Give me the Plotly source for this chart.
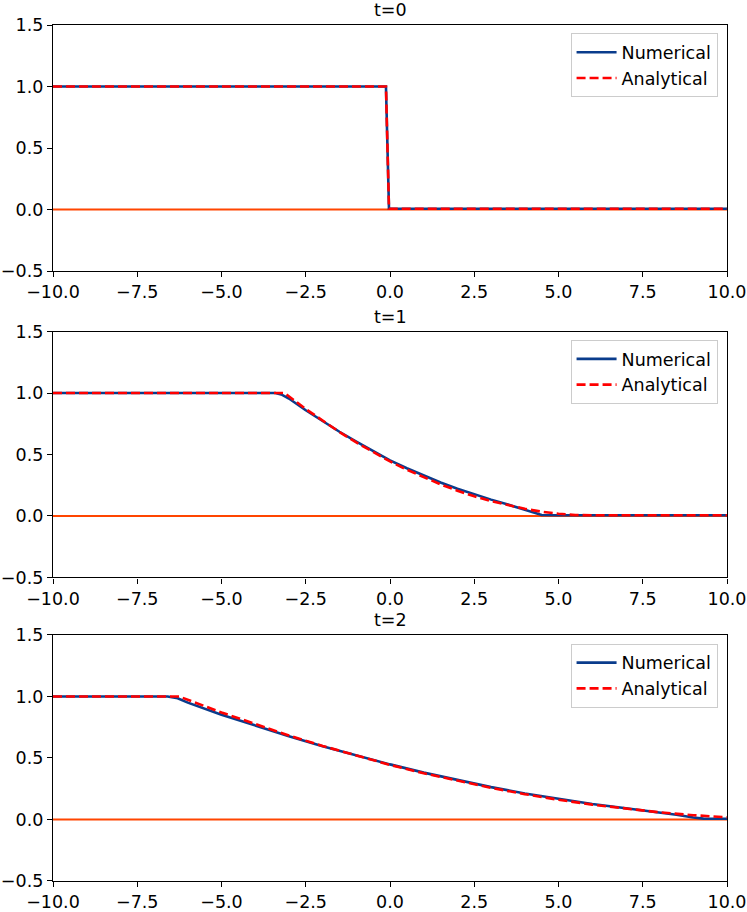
import plotly.graph_objects as go

# ---------------- data ----------------
titles = ["t=0", "t=1", "t=2"]

# t = 0
x_num_t0 = [-10.0, -0.12, -0.03, 10.0]
h_num_t0 = [1.0, 1.0, 0.006, 0.006]
x_ana_t0 = [-10.0, -0.12, -0.03, 10.0]
h_ana_t0 = [1.0, 1.0, 0.006, 0.006]

# t = 1
x_num_t1 = [-10.0, -3.4, -3.2, -3.0, -2.5, -2.0, -1.5, -1.0, -0.5, 0.0, 0.5, 1.0,
            1.5, 2.0, 2.5, 3.0, 3.5, 4.0, 4.3, 4.5, 5.0, 10.0]
h_num_t1 = [1.0, 1.0, 0.985, 0.955, 0.86, 0.77, 0.685, 0.605, 0.525, 0.452, 0.388, 0.328,
            0.272, 0.222, 0.176, 0.133, 0.093, 0.052, 0.022, 0.008, 0.006, 0.006]
x_ana_t1 = [-10.0, -3.13, -2.5, -2.0, -1.5, -1.0, -0.5, 0.0, 0.5, 1.0, 1.5, 2.0,
            2.5, 3.0, 3.5, 4.0, 4.5, 5.0, 5.5, 6.0, 10.0]
h_ana_t1 = [1.0, 1.0, 0.87, 0.775, 0.683, 0.598, 0.518, 0.444, 0.376, 0.314, 0.257, 0.206,
            0.160, 0.121, 0.087, 0.058, 0.035, 0.018, 0.008, 0.006, 0.006]

# t = 2
x_num_t2 = [-10.0, -6.6, -6.3, -6.0, -5.0, -4.0, -3.0, -2.0, -1.0, 0.0, 1.0, 2.0,
            3.0, 4.0, 5.0, 6.0, 7.0, 8.0, 8.5, 9.0, 9.3, 10.0]
h_num_t2 = [1.0, 1.0, 0.985, 0.95, 0.852, 0.762, 0.677, 0.596, 0.519, 0.448, 0.381, 0.319,
            0.263, 0.212, 0.166, 0.126, 0.091, 0.058, 0.038, 0.016, 0.007, 0.006]
x_ana_t2 = [-10.0, -6.26, -5.0, -4.0, -3.0, -2.0, -1.0, 0.0, 1.0, 2.0, 3.0, 4.0,
            5.0, 6.0, 7.0, 8.0, 9.0, 10.0]
h_ana_t2 = [1.0, 1.0, 0.87, 0.775, 0.683, 0.598, 0.518, 0.444, 0.376, 0.314, 0.257, 0.206,
            0.160, 0.121, 0.087, 0.058, 0.035, 0.018]

baseline_x = [-10.0, 10.0]
baseline_y = [0.0, 0.0]

x_ticks = [-10.0, -7.5, -5.0, -2.5, 0.0, 2.5, 5.0, 7.5, 10.0]
y_ticks = [-0.5, 0.0, 0.5, 1.0, 1.5]

panels = [
    (x_num_t0, h_num_t0, x_ana_t0, h_ana_t0),
    (x_num_t1, h_num_t1, x_ana_t1, h_ana_t1),
    (x_num_t2, h_num_t2, x_ana_t2, h_ana_t2),
]

# ---------------- styling ----------------
FONT = "DejaVu Sans"
FS = 17.5
BLUE = "#0a3c8c"
RED = "#ff0000"
ORANGE = "#ff4500"

domains = [[0.7126, 1.0], [0.3546, 0.6419], [0.0, 0.2874]]
legend_tops = [0.9903, 0.632, 0.2772]

fig = go.Figure()

for i, (xn, hn, xa, ha) in enumerate(panels):
    ax = "" if i == 0 else str(i + 1)
    xref = "x" + ax
    yref = "y" + ax
    leg = "legend" + ax
    fig.add_trace(go.Scatter(x=baseline_x, y=baseline_y, mode="lines",
                             line=dict(color=ORANGE, width=2.2),
                             showlegend=False, xaxis=xref, yaxis=yref,
                             hoverinfo="skip"))
    fig.add_trace(go.Scatter(x=xn, y=hn, mode="lines", name="Numerical",
                             line=dict(color=BLUE, width=2.6),
                             xaxis=xref, yaxis=yref, legend=leg))
    fig.add_trace(go.Scatter(x=xa, y=ha, mode="lines", name="Analytical",
                             line=dict(color=RED, width=2.6, dash="9px,4px"),
                             xaxis=xref, yaxis=yref, legend=leg))

axis_common = dict(showline=True, linecolor="black", linewidth=1.3, mirror=True,
                   ticks="outside", ticklen=5, tickwidth=1.3, tickcolor="black",
                   showgrid=False, zeroline=False, automargin=False,
                   tickfont=dict(family=FONT, size=FS, color="black"))

layout = dict(
    width=747, height=912,
    margin=dict(l=53, r=20, t=25, b=31, autoexpand=False),
    plot_bgcolor="white", paper_bgcolor="white",
    font=dict(family=FONT, size=FS, color="black"),
    annotations=[],
)

for i in range(3):
    ax = "" if i == 0 else str(i + 1)
    layout["xaxis" + ax] = dict(axis_common, range=[-10, 10], tickvals=x_ticks,
                                tickformat=".1f", domain=[0, 1],
                                anchor="y" + ax)
    layout["yaxis" + ax] = dict(axis_common, range=[-0.5, 1.5], tickvals=y_ticks,
                                tickformat=".1f", domain=domains[i],
                                anchor="x" + ax)
    layout["legend" + ax] = dict(x=0.986, y=legend_tops[i], xanchor="right",
                                 yanchor="top", xref="paper", yref="paper",
                                 bgcolor="rgba(255,255,255,0.85)",
                                 bordercolor="#cccccc", borderwidth=1,
                                 itemwidth=40,
                                 font=dict(family=FONT, size=FS, color="black"),
                                 tracegroupgap=0)
    layout["annotations"].append(dict(text=titles[i], xref="paper", yref="paper",
                                      x=0.5, y=domains[i][1], xanchor="center",
                                      yanchor="bottom", yshift=3, showarrow=False,
                                      font=dict(family=FONT, size=FS, color="black")))

fig.update_layout(**layout)
fig.write_html("out.html",
               config={"displayModeBar": False},
               post_script="document.body.style.margin='0';"
                           "document.body.style.overflow='hidden';")
